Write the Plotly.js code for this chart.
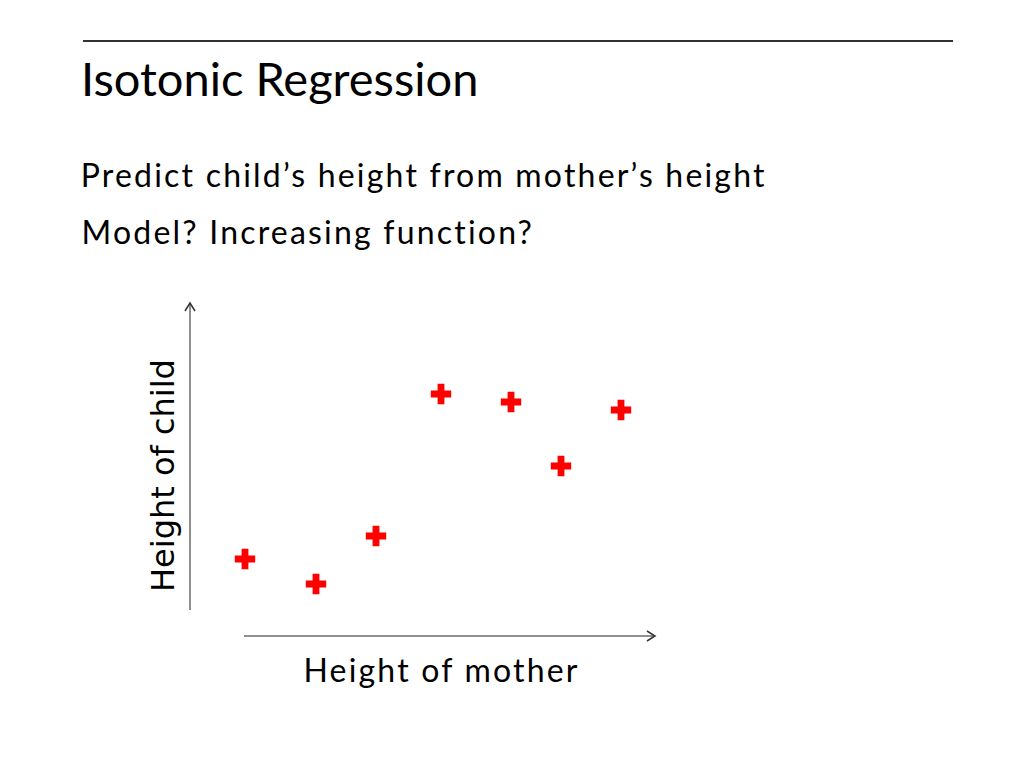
<!DOCTYPE html>
<html>
<head>
<meta charset="utf-8">
<script src="https://cdn.plot.ly/plotly-3.0.1.min.js"></script>
<style>
html,body{margin:0;padding:0;background:#fff;}
#chart{width:1024px;height:768px;}
.annotation[data-index="0"] text, .annotation[data-index="1"] text, .annotation[data-index="2"] text { letter-spacing: 2.2px; }
</style>
</head>
<body>
<div id="chart"></div>
<script>
// Data (arbitrary units)
var motherHeight = [65, 136, 196, 261, 331, 381, 441];
var childHeight  = [86, 61, 109, 251, 243, 179, 235];

var titleText = "Isotonic Regression";
var bulletLines = ["Predict child\u2019s height from mother\u2019s height", "Model? Increasing function?"];
var xLabel = "Height of mother";
var yLabel = "Height of child";

var FONT = "Lato, 'Open Sans', sans-serif";
var YFONT = "'DejaVu Sans', sans-serif";

// plot area geometry helpers (pixel -> paper)
var L = 180, R = 670, T = 295, B = 645;
function px(x) { return (x - L) / (R - L); }
function py(y) { return (B - y) / (B - T); }

var trace = {
  type: "scatter",
  mode: "markers",
  x: motherHeight,
  y: childHeight,
  marker: {symbol: "cross", size: 17, color: "#ff0000", line: {width: 0}},
  cliponaxis: false,
  hoverinfo: "skip"
};

var layout = {
  width: 1024, height: 768,
  paper_bgcolor: "#ffffff", plot_bgcolor: "#ffffff",
  margin: {l: L, r: 1024 - R, t: T, b: 768 - B, pad: 0},
  showlegend: false,
  title: {
    text: titleText,
    font: {family: FONT, size: 47, color: "#000000"},
    xref: "container", yref: "container",
    x: 81/1024, xanchor: "left",
    y: 1 - 80/768, yanchor: "middle"
  },
  xaxis: {range: [0, R - L], visible: false, fixedrange: true},
  yaxis: {range: [0, B - T], visible: false, fixedrange: true},
  shapes: [
    {type: "line", xref: "paper", yref: "paper",
     x0: px(83), x1: px(953), y0: py(41), y1: py(41),
     line: {color: "#333333", width: 2}},
    {type: "path", xref: "x", yref: "y", path: "M 10,35 L 10,342", line: {color: "#6b6b6b", width: 1.5}},
    {type: "path", xref: "x", yref: "y", path: "M 5,334 L 10,342 L 15,334", line: {color: "#333333", width: 1.5}},
    {type: "path", xref: "x", yref: "y", path: "M 64,9 L 475,9", line: {color: "#6b6b6b", width: 1.5}},
    {type: "path", xref: "x", yref: "y", path: "M 467,14 L 475,9 L 467,4", line: {color: "#333333", width: 1.5}}
  ],
  annotations: [
    {text: bulletLines[0], xref: "paper", yref: "paper", x: px(424), y: py(174),
     xanchor: "center", yanchor: "middle", showarrow: false, font: {family: FONT, size: 32, color: "#000000"}},
    {text: bulletLines[1], xref: "paper", yref: "paper", x: px(308), y: py(231),
     xanchor: "center", yanchor: "middle", showarrow: false, font: {family: FONT, size: 32, color: "#000000"}},
    {text: xLabel, xref: "paper", yref: "paper", x: px(441), y: py(669),
     xanchor: "center", yanchor: "middle", showarrow: false, font: {family: FONT, size: 32, color: "#000000"}},
    {text: yLabel, xref: "paper", yref: "paper", x: px(163), y: py(476), textangle: -90,
     xanchor: "center", yanchor: "middle", showarrow: false, font: {family: YFONT, size: 32, color: "#000000"}}
  ]
};

Plotly.newPlot("chart", [trace], layout, {displayModeBar: false, staticPlot: true});
</script>
</body>
</html>
